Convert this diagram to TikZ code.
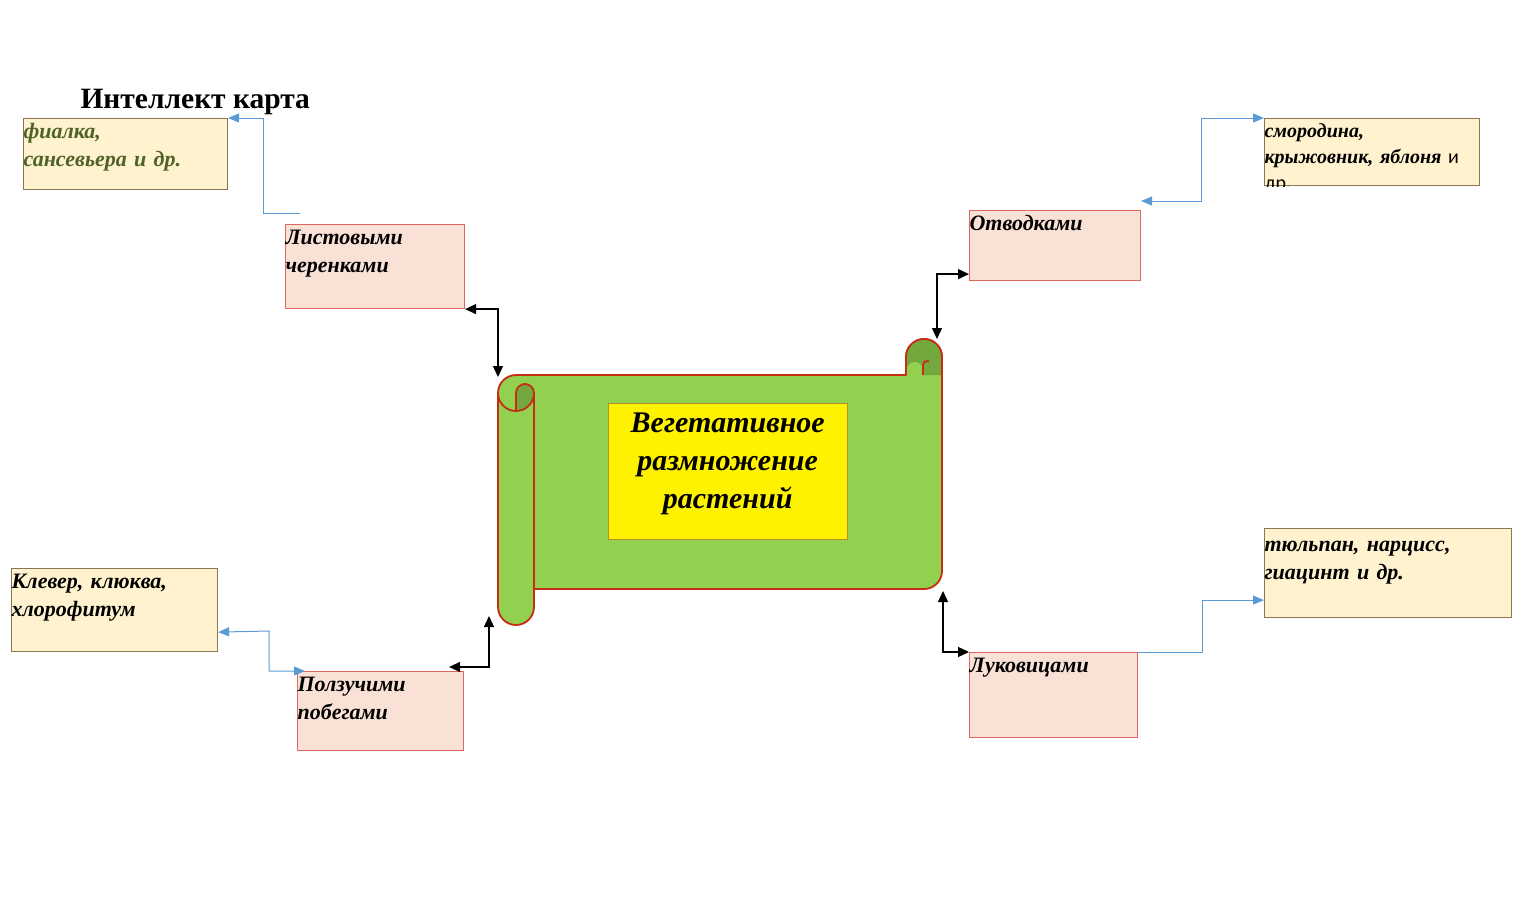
\documentclass[tikz,border=0pt]{standalone}
\usepackage{fontspec}
\setmainfont{Liberation Serif}
\newfontfamily\calib{Carlito}
\usetikzlibrary{positioning, arrows.meta}
\definecolor{pinkfill}{RGB}{249,225,214}
\definecolor{pinkline}{RGB}{221,104,98}
\definecolor{creamfill}{RGB}{255,242,206}
\definecolor{creamline}{RGB}{140,118,82}
\definecolor{olivetext}{RGB}{79,98,40}
\definecolor{linkblue}{RGB}{91,155,213}
\definecolor{scrollgreen}{RGB}{146,208,80}
\definecolor{scrolldark}{RGB}{114,168,62}
\definecolor{scrollred}{RGB}{200,45,20}
\definecolor{coreline}{RGB}{190,140,40}

\begin{document}
\begin{tikzpicture}[x=1pt,y=1pt,>={Triangle[length=11pt,width=10pt]},
  cell/.style={draw, anchor=north west, inner sep=0pt, align=left, line width=1.1pt, text height=20pt, font=\fontsize{22}{28}\selectfont\bfseries\itshape},
  kind/.style={cell, fill=pinkfill, draw=pinkline},
  plants/.style={cell, fill=creamfill, draw=creamline},
  link/.style={<->, line width=1.3pt},
  leaf/.style={color=linkblue, line width=1pt, >={Triangle[length=11pt,width=9pt]}},
  rim/.style={draw=scrollred, line width=1.8pt, line join=round}]
\useasboundingbox (0,0) rectangle (1527,-905);

\node[anchor=base west, font=\fontsize{29.5}{36}\selectfont\bfseries] (title) at (77,-108) {Интеллект карта};

% scroll
\filldraw[fill=scrollgreen, rim] (534,-589) -- (924,-589) arc[start angle=270, end angle=360, radius=18] -- (942,-357) arc[start angle=0, end angle=180, radius=18] -- (906,-375) -- (516,-375) arc[start angle=90, end angle=180, radius=18] -- (498,-607) arc[start angle=180, end angle=360, radius=18] -- cycle;
\fill[scrolldark] (942,-357) arc[start angle=0, end angle=180, radius=18] -- (906,-366) -- (942,-366) -- cycle (924,-366) rectangle (942,-375);
\fill[scrollgreen] (907,-375) -- (907,-370) arc[start angle=180, end angle=0, radius=8] -- (923,-375) -- cycle;
\fill[scrolldark] (516,-393) arc[start angle=180, end angle=0, radius=9] arc[start angle=0, end angle=-90, radius=18] -- cycle;
\draw[rim] (942,-380) -- (942,-357) arc[start angle=0, end angle=180, radius=18] -- (906,-375);
\draw[rim] (923,-375) -- (923,-365) arc[start angle=180, end angle=60, radius=4];
\draw[rim] (498,-393) arc[start angle=180, end angle=360, radius=18] (516,-411) -- (516,-393) arc[start angle=180, end angle=0, radius=9] -- (534,-607);
\coordinate (rollTL) at (498,-377);
\coordinate (rollBL) at (489,-616);
\coordinate (curlTop) at (937,-339);
\coordinate (sheetBR) at (943,-591);

\node[fill=yellow, draw=coreline, anchor=north west, inner sep=0pt, text width=239pt, align=center, text height=29pt, text depth=107pt, font=\fontsize{30}{38}\selectfont\bfseries\itshape] (core) at (608,-403) {Вегетативное\\размножение\\растений};

% ways
\node[kind, text width=179pt, text depth=64pt] (leafcut) at (285,-224) {Листовыми\\черенками};
\node[kind, text width=171pt, text depth=50pt] (layer) at (969,-210) {Отводками};
\node[kind, text width=166pt, text depth=59pt] (runner) at (297,-671) {Ползучими\\побегами};
\node[kind, text width=168pt, text depth=65pt] (bulb) at (969,-652) {Луковицами};

% plants
\node[plants, text width=204pt, text depth=51pt, text=olivetext] (violet) at (23,-118) {фиалка,\\сансевьера и др.};
\node[plants, text width=206pt, text depth=63pt] (clover) at (11,-568) {Клевер, клюква,\\хлорофитум};
\node[plants, text width=247pt, text height=23pt, text depth=66pt] (tulip) at (1264,-528) {тюльпан, нарцисс,\\гиацинт и др.};
\begin{scope}
\clip (1262,-116) rectangle (1481,-186);
\node[plants, text width=215pt, text height=19pt, text depth=48pt, font=\fontsize{20}{26}\selectfont\bfseries\itshape] (currant) at (1264,-118) {смородина,\\крыжовник, яблоня {\calib\upshape\mdseries и}\\{\calib\upshape\mdseries др.}};
\end{scope}

% links
\draw[link] (leafcut.south east) -| (rollTL);
\draw[link] (curlTop) |- ([yshift=7pt]layer.south west);
\draw[link] ([xshift=-15pt,yshift=4pt]runner.north east) -| (rollBL);
\draw[link] (bulb.north west) -| (sheetBR);

\coordinate (leafEnd) at (300,-213);
\draw[leaf, ->] (leafEnd) -- (263,-213) |- (violet.north east);
\draw[leaf, <->] ([yshift=9pt]layer.north east) -- (1201,-201) |- (currant.north west);
\draw[leaf, <->] ([yshift=20pt]clover.south east) -- (269,-631) |- ([xshift=8pt]runner.north west);
\draw[leaf, ->] (bulb.north east) -- (1202,-652) |- ([yshift=18pt]tulip.south west);
\end{tikzpicture}
\end{document}
